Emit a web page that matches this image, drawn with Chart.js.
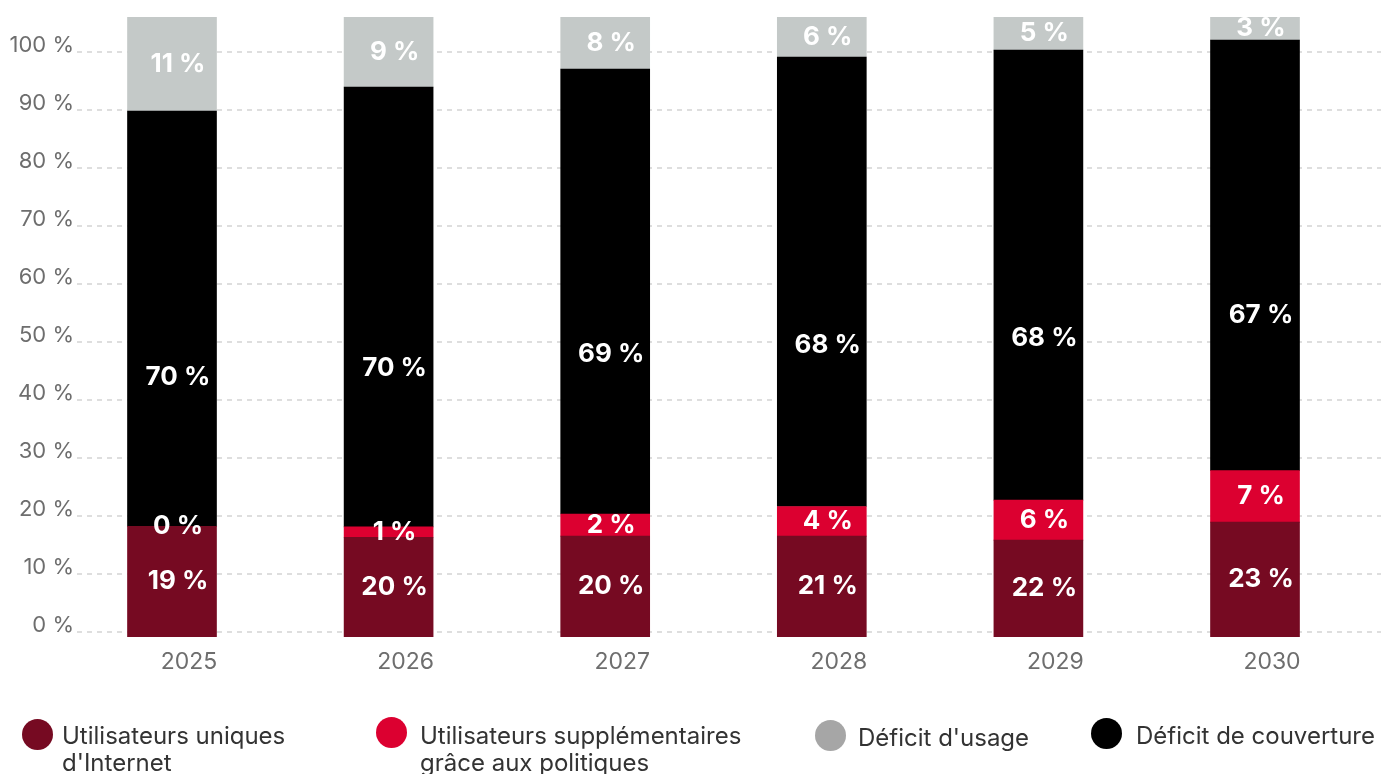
<!DOCTYPE html>
<html lang="fr">
<head>
<meta charset="utf-8">
<script src="https://cdn.jsdelivr.net/npm/chart.js@4.4.1/dist/chart.umd.min.js"></script>
<style>
html,body{margin:0;padding:0;background:#fff;}
#wrap{position:relative;width:1381px;height:774px;overflow:hidden;font-family:Inter,"Noto Sans",sans-serif;}
#chart{position:absolute;left:0;top:0;}
.dot{position:absolute;width:31px;height:31px;border-radius:50%;}
.txt{position:absolute;color:#333;font-size:24px;line-height:27px;white-space:pre-line;}
</style>
</head>
<body>
<div id="wrap">
  <canvas id="chart" width="1381" height="774"></canvas>
  <div id="legend"></div>
</div>
<script>
const years=['2025','2026','2027','2028','2029','2030'];

// segment heights as drawn in the picture (axis %)
const uniques=[18.3,16.4,16.6,16.6,15.9,19.0];
const politiques=[0,1.8,3.8,5.1,6.9,8.9];
const couverture=[71.6,75.8,76.7,77.5,77.6,74.2];
const usage=[16.2,12.1,9.0,6.9,5.7,4.0];

// values printed on the bars
const uniquesLbl=[19,20,20,21,22,23];
const politiquesLbl=[0,1,2,4,6,7];
const couvertureLbl=[70,70,69,68,68,67];
const usageLbl=[11,9,8,6,5,3];

const yTicks=[0,10,20,30,40,50,60,70,80,90,100];

const names=['Utilisateurs uniques\nd\'Internet','Utilisateurs supplémentaires\ngrâce aux politiques','Déficit d\'usage','Déficit de couverture'];
const colors=['#760a22','#dc0030','#c4c9c8','#000000'];
const legendColors=['#760a22','#dc0030','#a6a6a6','#000000'];

function pts(arr){
    return arr.map((v,i)=>({x:i,y:v}));
}

const segLabels={
    id:'segLabels',
    afterDatasetsDraw(chart){
        const ctx=chart.ctx;
        const area=chart.chartArea;
        ctx.save();
        ctx.font='700 26px Inter';
        ctx.fillStyle='#fff';
        ctx.textAlign='center';
        ctx.textBaseline='middle';
        chart.data.datasets.forEach((ds,i)=>{
            chart.getDatasetMeta(i).data.forEach((bar,j)=>{
                const p=bar.getProps(['x','y','base'],true);
                const top=Math.max(Math.min(p.y,p.base),area.top);
                const bot=Math.min(Math.max(p.y,p.base),area.bottom);
                const ly=bot-(bot-top)*(ds.labelPos||0.5);
                ctx.fillText(ds.printed[j]+' %',p.x+6,ly);
            });
        });
        ctx.restore();
    }
};

new Chart(document.getElementById('chart').getContext('2d'),{
    type:'bar',
    data:{
        datasets:[
            {label:names[0],data:pts(uniques),printed:uniquesLbl,backgroundColor:colors[0],base:-0.8},
            {label:names[1],data:pts(politiques),printed:politiquesLbl,backgroundColor:colors[1]},
            {label:names[3],data:pts(couverture),printed:couvertureLbl,backgroundColor:colors[3],labelPos:0.36},
            {label:names[2],data:pts(usage),printed:usageLbl,backgroundColor:colors[2]}
        ]
    },
    options:{
        responsive:false,
        animation:false,
        barThickness:89,
        layout:{padding:{top:17,left:0,right:0,bottom:0}},
        plugins:{legend:{display:false},tooltip:{enabled:false}},
        scales:{
            x:{
                type:'linear',
                stacked:true,
                min:-0.4386,
                max:5.5817,
                offset:false,
                afterBuildTicks:s=>{s.ticks=years.map((_,i)=>({value:i}));},
                afterFit:s=>{s.height=137;},
                grid:{display:false},
                border:{display:false},
                ticks:{color:'#6e6e6e',font:{family:'Inter',size:23},padding:3,labelOffset:17,maxRotation:0,autoSkip:false,
                    callback:v=>years[v]}
            },
            y:{
                stacked:true,
                min:-0.8,
                max:106.1,
                afterBuildTicks:s=>{s.ticks=yTicks.map(v=>({value:v}));},
                afterFit:s=>{s.width=77;},
                grid:{color:'#dedede',lineWidth:2,drawTicks:false},
                border:{display:false,dash:[5,5]},
                ticks:{color:'#6e6e6e',font:{family:'Inter',size:22},padding:3,labelOffset:-7,callback:v=>v+' %'}
            }
        }
    },
    plugins:[segLabels]
});

// legend, laid out like the original (positions in px)
const legendPos=[
    {dot:[22,719],txt:[62,722]},
    {dot:[376,717],txt:[420,722]},
    {dot:[815,720],txt:[858,724]},
    {dot:[1091,718],txt:[1136,722]}
];
const legend=document.getElementById('legend');
names.forEach((n,i)=>{
    const d=document.createElement('div');
    d.className='dot';
    d.style.left=legendPos[i].dot[0]+'px';
    d.style.top=legendPos[i].dot[1]+'px';
    d.style.background=legendColors[i];
    legend.appendChild(d);
    const t=document.createElement('div');
    t.className='txt';
    t.style.left=legendPos[i].txt[0]+'px';
    t.style.top=legendPos[i].txt[1]+'px';
    t.textContent=n;
    legend.appendChild(t);
});
</script>
</body>
</html>
